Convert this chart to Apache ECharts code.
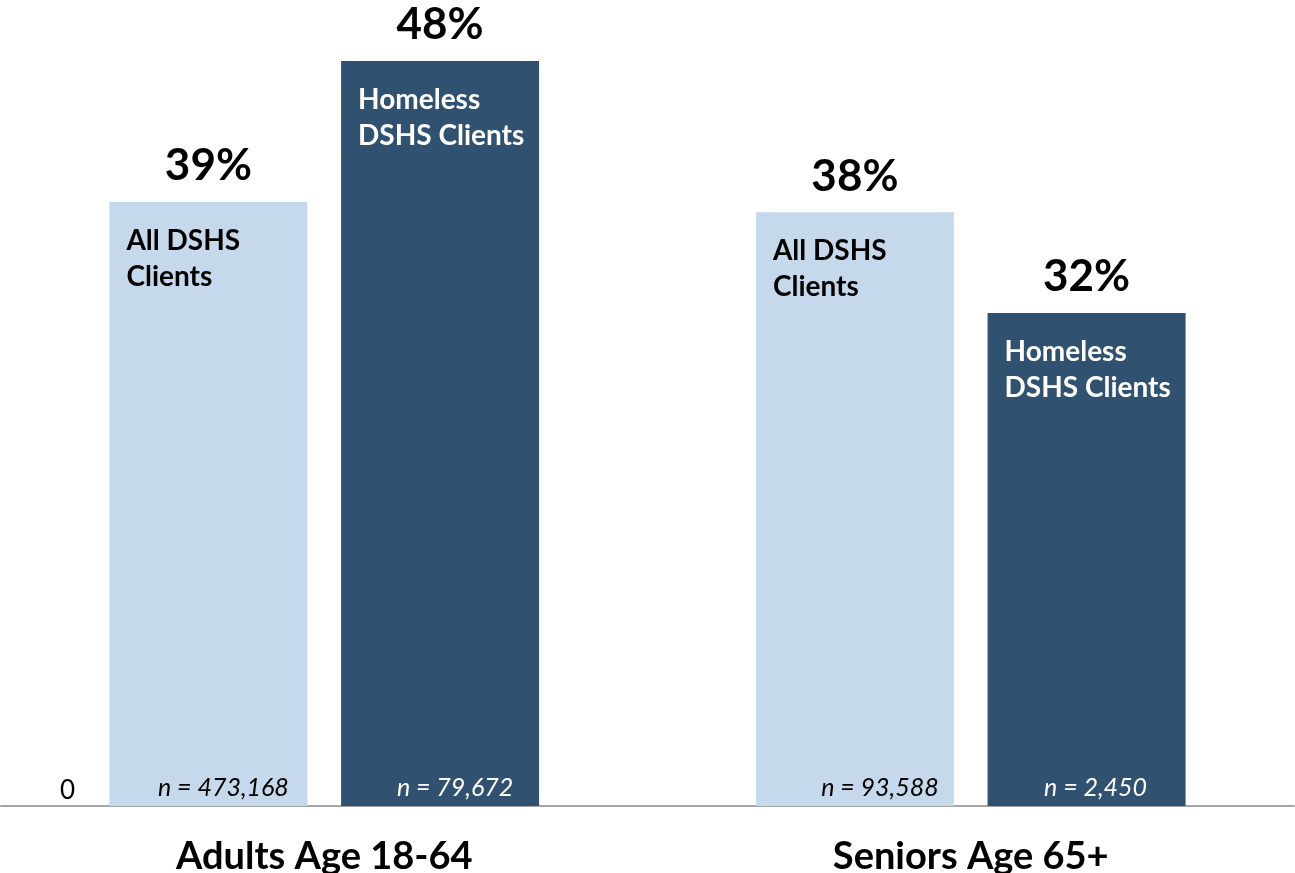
<!DOCTYPE html>
<html>
<head>
<meta charset="utf-8">
<script src="https://cdn.jsdelivr.net/npm/echarts@6/dist/echarts.min.js"></script>
<style>
html,body{margin:0;padding:0;background:#fff;}
#chart{width:1295px;height:873px;}
</style>
</head>
<body>
<div id="chart"></div>
<script>
const categories = ['Adults Age 18-64', 'Seniors Age 65+'];
const seriesNames = ['All DSHS Clients', 'Homeless DSHS Clients'];
const allClients = [38.97, 38.3];
const homelessClients = [48.06, 31.8];
const allN = ['n = 473,168', 'n = 93,588'];
const homelessN = ['n = 79,672', 'n = 2,450'];
const nOffsetsAll = [15, 25];
const nOffsetsHomeless = [15, 9];
const insideNames = ['All DSHS\nClients', 'Homeless\nDSHS Clients'];

const LIGHT = '#C6D9EC';
const DARK = '#30516F';
const FONT = 'Lato, "Open Sans", sans-serif';

const chart = echarts.init(document.getElementById('chart'));

const baseX = {
  type: 'category', data: categories, gridIndex: 0
};

function barCommon(xi) {
  return { type: 'bar', xAxisIndex: xi, yAxisIndex: 0, barWidth: 198, barGap: '17%', animation: false, silent: true };
}

const pctLabel = { show: true, position: 'top', distance: 11, color: '#000', fontFamily: FONT, fontWeight: 'bold', fontSize: 44, lineHeight: 50,
  formatter: p => Math.round(p.value) + '%' };

const option = {
  backgroundColor: '#fff',
  textStyle: { fontFamily: FONT },
  grid: { left: 1, right: 1, top: 31, bottom: 67, containLabel: false, outerBoundsMode: 'none' },
  xAxis: [
    Object.assign({}, baseX, {
      axisLine: { show: true, lineStyle: { color: '#A6A6A6', width: 2 } },
      axisTick: { show: false },
      axisLabel: { color: '#000', fontFamily: FONT, fontWeight: 'bold', fontSize: 38, lineHeight: 36, margin: 33 }
    }),
    Object.assign({}, baseX, { show: false }),
    Object.assign({}, baseX, { show: false })
  ],
  yAxis: {
    type: 'value', min: 0, max: 50, interval: 50,
    axisLine: { show: false }, axisTick: { show: false }, splitLine: { show: false },
    axisLabel: {
      inside: true, margin: 59, showMaxLabel: false,
      color: '#000', fontFamily: FONT, fontSize: 26, lineHeight: 30, verticalAlign: 'bottom'
    }
  },
  series: [
    Object.assign(barCommon(0), {
      name: seriesNames[0], data: allClients, z: 2,
      itemStyle: { color: LIGHT },
      label: pctLabel
    }),
    Object.assign(barCommon(0), {
      name: seriesNames[1], data: homelessClients, z: 2,
      itemStyle: { color: DARK },
      label: pctLabel
    }),
    Object.assign(barCommon(1), {
      name: seriesNames[0] + ' name', data: allClients, z: 3,
      itemStyle: { color: 'rgba(0,0,0,0)' },
      label: { show: true, position: 'insideTopLeft', distance: 17, offset: [0, 4], color: '#000', fontFamily: FONT, fontWeight: 'bold', fontSize: 28, lineHeight: 36,
        formatter: () => insideNames[0] }
    }),
    Object.assign(barCommon(1), {
      name: seriesNames[1] + ' name', data: homelessClients, z: 3,
      itemStyle: { color: 'rgba(0,0,0,0)' },
      label: { show: true, position: 'insideTopLeft', distance: 17, offset: [0, 4], color: '#fff', fontFamily: FONT, fontWeight: 'bold', fontSize: 28, lineHeight: 36,
        formatter: () => insideNames[1] }
    }),
    Object.assign(barCommon(2), {
      name: seriesNames[0] + ' n', z: 3,
      data: allClients.map((v, i) => ({ value: v, label: { offset: [nOffsetsAll[i], 0] } })),
      itemStyle: { color: 'rgba(0,0,0,0)' },
      label: { show: true, position: 'insideBottom', distance: 5, color: '#000', fontFamily: FONT, fontStyle: 'italic', fontSize: 25, lineHeight: 26,
        formatter: p => allN[p.dataIndex] }
    }),
    Object.assign(barCommon(2), {
      name: seriesNames[1] + ' n', z: 3,
      data: homelessClients.map((v, i) => ({ value: v, label: { offset: [nOffsetsHomeless[i], 0] } })),
      itemStyle: { color: 'rgba(0,0,0,0)' },
      label: { show: true, position: 'insideBottom', distance: 5, color: '#fff', fontFamily: FONT, fontStyle: 'italic', fontSize: 25, lineHeight: 26,
        formatter: p => homelessN[p.dataIndex] }
    })
  ]
};
chart.setOption(option);
</script>
</body>
</html>
